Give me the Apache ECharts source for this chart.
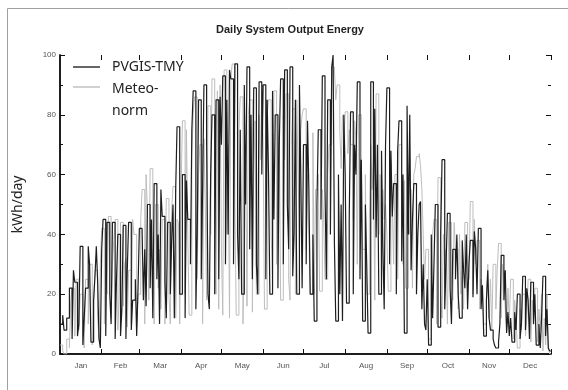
<!DOCTYPE html>
<html>
<head>
<meta charset="utf-8">
<title>Daily System Output Energy</title>
<script src="https://cdn.jsdelivr.net/npm/echarts@6/dist/echarts.min.js"></script>
<style>
  html,body{margin:0;padding:0;background:#fff}
  #chart{width:568px;height:390px}
</style>
</head>
<body>
<div id="chart"></div>
<script>
var months = ['Jan','Feb','Mar','Apr','May','Jun','Jul','Aug','Sep','Oct','Nov','Dec'];
var monthDays = [31,28,31,30,31,30,31,31,30,31,30,31];

// PVGIS-TMY, kWh/day, one value per day
var pvJan = [10,10,13,8,8,12,12,22,22,5,28,24,24,6,10,36,36,3,12,22,22,36,30,4,4,18,26,36,24,5,2];
var pvFeb = [35,45,45,6,44,44,20,10,44,44,5,25,40,40,6,15,43,43,5,28,44,44,8,18,18,25,6,22];
var pvMar = [42,42,42,18,35,16,50,50,22,45,12,57,57,25,40,10,55,46,46,24,12,44,44,20,38,50,12,55,76,76,20];
var pvApr = [20,60,60,12,58,45,45,30,75,88,88,15,40,85,85,25,55,90,90,70,20,15,60,80,80,20,85,85,25,86];
var pvMay = [70,93,93,30,85,40,95,92,92,30,97,97,40,25,75,20,20,90,50,96,96,35,80,25,89,89,30,20,91,91,60];
var pvJun = [90,90,25,85,60,20,20,88,45,80,80,22,70,92,92,30,95,95,50,35,96,96,26,40,85,20,20,90,60,22];
var pvJul = [70,70,30,78,55,20,20,40,11,11,50,75,75,45,93,93,55,25,85,85,40,96,100,37,11,11,60,20,50,11,80];
var pvAug = [60,17,17,45,81,81,20,70,60,91,91,25,65,11,11,50,30,7,7,91,91,45,82,39,70,20,20,68,36,15,70];
var pvSep = [89,89,30,68,46,57,57,20,68,78,78,31,60,7,7,83,40,80,28,45,57,57,20,40,50,51,15,30,10,8];
var pvOct = [25,3,3,40,12,30,50,50,9,9,40,65,65,15,30,47,47,22,10,35,35,25,40,20,12,12,38,28,22,40,15];
var pvNov = [30,38,38,19,41,35,20,42,42,15,23,6,6,18,28,12,8,8,5,3,2,2,4,10,33,33,18,28,7,14];
var pvDec = [6,12,4,4,14,8,20,20,5,10,26,26,8,22,18,5,24,24,10,20,3,3,10,2,12,26,26,6,15,2,1];

// Meteonorm, kWh/day
var meJan = [3,3,1,0,0,5,5,2,18,22,22,6,25,25,8,20,20,6,2,25,25,10,30,30,3,18,28,28,12,5,30];
var meFeb = [42,42,10,36,20,46,46,12,30,38,45,45,8,20,44,44,16,30,32,9,28,28,10,45,40,40,9,20];
var meMar = [20,45,55,55,10,60,48,18,62,62,30,10,50,50,22,35,15,45,45,10,52,52,20,10,48,56,56,12,45,44,10];
var meApr = [55,78,78,20,75,40,13,13,66,80,86,86,25,60,70,70,10,72,50,18,83,83,40,92,92,30,20,88,15,90];
var meMay = [35,13,95,95,40,70,12,92,97,97,50,13,13,75,86,86,10,35,65,16,80,85,85,14,60,78,20,20,80,65,88];
var meJun = [70,15,15,80,85,85,40,25,88,88,30,55,75,18,18,80,65,87,87,25,18,70,82,82,20,85,60,35,75,80];
var meJul = [82,82,35,60,40,20,20,74,20,55,55,60,21,21,55,45,25,25,60,70,70,96,96,95,85,90,90,75,62,80,72];
var meAug = [81,81,67,75,70,70,45,78,72,30,80,80,67,35,35,60,20,20,45,70,55,65,18,87,87,40,60,21,55,45,50];
var meSep = [40,21,21,65,50,30,60,60,25,70,70,55,30,58,22,22,45,40,55,22,60,62,66,66,67,63,55,40,25,35];
var meOct = [35,5,5,20,40,45,45,10,59,59,20,12,40,30,35,10,44,44,25,18,44,35,35,15,40,20,28,15,44,44,30];
var meNov = [25,51,51,20,45,30,38,38,15,25,22,10,10,18,30,12,25,8,30,30,15,28,37,37,12,30,25,15,8,22];
var meDec = [10,25,25,5,18,12,2,2,15,8,20,20,6,12,25,25,4,18,10,22,22,4,15,8,20,1,12,3,20,2,0];

var pvgis = [].concat(pvJan,pvFeb,pvMar,pvApr,pvMay,pvJun,pvJul,pvAug,pvSep,pvOct,pvNov,pvDec);
var meteo = [].concat(meJan,meFeb,meMar,meApr,meMay,meJun,meJul,meAug,meSep,meOct,meNov,meDec);

// month boundaries and mid points in day units
var bounds = [], mids = [], acc = 0;
monthDays.forEach(function(d){ mids.push(acc + d/2); acc += d; bounds.push(acc); });
bounds.pop();
var totalDays = acc;
var dayCats = [];
for (var d = 1; d <= totalDays; d++) dayCats.push(d);

// each day is held flat over [day, day+1] -> step outline
function toSteps(arr){
  var pts = [];
  arr.forEach(function(v,i){ pts.push([i, v], [i+1, v]); });
  return pts;
}
function monthName(v){
  for (var i=0;i<mids.length;i++) if (Math.abs(mids[i]-v) < 0.01) return months[i];
  return '';
}

var axisCol = '#111';
var plotL = 60, plotT = 55, plotW = 491, plotH = 299;

// inward ticks: drawn as split lines of thin grids hugging the inside of each edge
function ySplitAxis(grid, step){
  return {gridIndex:grid,type:'value',min:0,max:100,interval:step,
    axisLine:{show:false},axisTick:{show:false},axisLabel:{show:false},
    splitLine:{show:true,lineStyle:{color:axisCol,width:1}}};
}
function xMonthAxis(grid){
  return {gridIndex:grid,type:'category',data:dayCats,
    axisLine:{show:false},axisTick:{show:false},axisLabel:{show:false},
    splitLine:{show:true,interval:function(i){ return bounds.indexOf(i) >= 0; },lineStyle:{color:axisCol,width:1}}};
}
function hidden(grid){ return {gridIndex:grid,type:'value',show:false,min:0,max:1}; }

var chart = echarts.init(document.getElementById('chart'));
chart.setOption({
  animation:false,
  grid:[
    {left:plotL,top:plotT,width:plotW,height:plotH},
    {left:plotL,top:plotT,width:5,height:plotH},
    {left:plotL,top:plotT,width:3,height:plotH},
    {left:plotL+plotW-5,top:plotT,width:5,height:plotH},
    {left:plotL+plotW-3,top:plotT,width:3,height:plotH},
    {left:plotL,top:plotT+plotH-5,width:plotW,height:5},
    {left:plotL,top:plotT,width:plotW,height:5}
  ],
  xAxis:[{
    gridIndex:0,type:'value',min:0,max:totalDays,position:'bottom',
    axisLine:{lineStyle:{color:axisCol,width:1.5}},
    axisTick:{show:false},
    axisLabel:{customValues:mids,formatter:monthName,color:'#555',fontSize:8,fontFamily:'Liberation Sans',margin:8},
    splitLine:{show:false}
  },{
    gridIndex:0,type:'value',min:0,max:totalDays,position:'top',
    axisLine:{lineStyle:{color:axisCol,width:1.5}},
    axisTick:{show:false},axisLabel:{show:false},splitLine:{show:false}
  },
    hidden(1),hidden(2),hidden(3),hidden(4),
    xMonthAxis(5),xMonthAxis(6)
  ],
  yAxis:[{
    gridIndex:0,type:'value',min:0,max:100,interval:20,position:'left',
    name:'kWh/day',nameLocation:'middle',nameGap:35,
    nameTextStyle:{fontSize:14,fontFamily:'Noto Sans',color:'#222'},
    axisLine:{show:true,lineStyle:{color:axisCol,width:1.5}},
    axisTick:{show:false},
    axisLabel:{color:'#555',fontSize:8,fontFamily:'Liberation Sans',margin:4},
    splitLine:{show:false}
  },{
    gridIndex:0,type:'value',min:0,max:100,interval:20,position:'right',
    axisLine:{show:true,lineStyle:{color:axisCol,width:1.5}},
    axisTick:{show:false},axisLabel:{show:false},splitLine:{show:false}
  },
    ySplitAxis(1,20),ySplitAxis(2,10),ySplitAxis(3,20),ySplitAxis(4,10),
    hidden(5),hidden(6)
  ],
  series:[{
    name:'Meteonorm',type:'line',symbol:'none',xAxisIndex:0,yAxisIndex:0,
    data:toSteps(meteo),lineStyle:{color:'#bdbdbd',width:1},z:2
  },{
    name:'PVGIS-TMY',type:'line',symbol:'none',xAxisIndex:0,yAxisIndex:0,
    data:toSteps(pvgis),lineStyle:{color:'#1e1e1e',width:1.2},z:3
  }],
  graphic:[
    {type:'rect',shape:{x:7.5,y:8.5,width:620,height:420},style:{fill:null,stroke:'#a0a0a0',lineWidth:1},silent:true},
    {type:'text',x:290,y:30,style:{text:'Daily System Output Energy',font:'bold 11px "Liberation Sans"',fill:'#222',align:'center',verticalAlign:'middle'}},
    {type:'line',shape:{x1:73,y1:67,x2:100,y2:67},style:{stroke:'#333',lineWidth:1.5},z:10},
    {type:'text',x:112,y:67,style:{text:'PVGIS-TMY',font:'14px "Noto Sans"',fill:'#222',verticalAlign:'middle'},z:10},
    {type:'line',shape:{x1:73,y1:87,x2:100,y2:87},style:{stroke:'#c2c2c2',lineWidth:1.5},z:10},
    {type:'text',x:112,y:89,style:{text:'Meteo-',font:'14px "Noto Sans"',fill:'#222',verticalAlign:'middle'},z:10},
    {type:'text',x:112,y:111,style:{text:'norm',font:'14px "Noto Sans"',fill:'#222',verticalAlign:'middle'},z:10}
  ]
});
</script>
</body>
</html>
